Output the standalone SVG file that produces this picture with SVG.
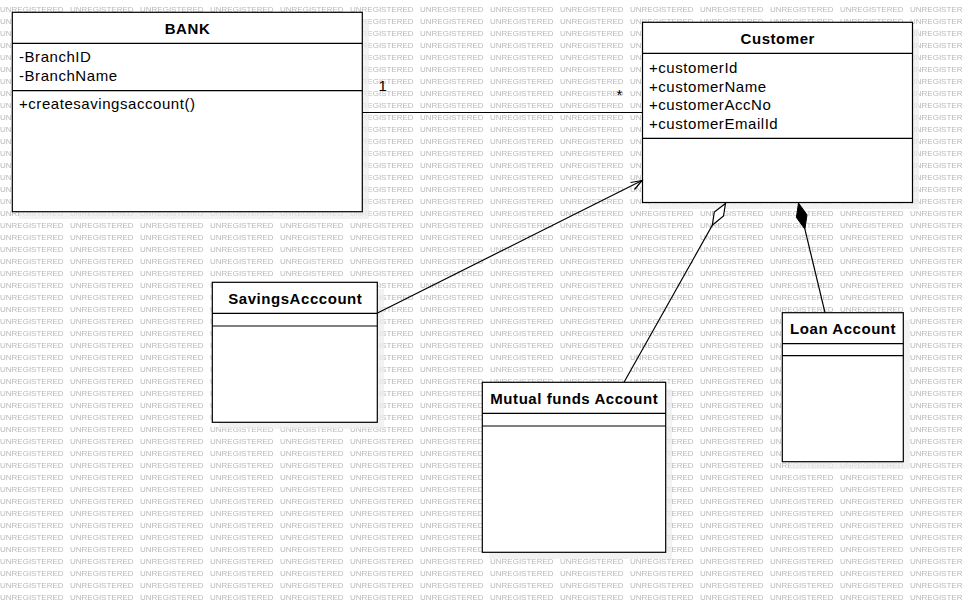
<svg xmlns="http://www.w3.org/2000/svg" width="963" height="602" viewBox="0 0 963 602">
  <defs>
    <pattern id="wm" patternUnits="userSpaceOnUse" x="0" y="0" width="70" height="12">
      <text x="0" y="11.8" font-family="Liberation Sans, Arial, sans-serif" font-size="8" fill="#b8b8b8">UNREGISTERED</text>
    </pattern>
    <style>
      .box { fill: #ffffff; stroke: #000000; stroke-width: 1.2; }
      .div { stroke: #000000; stroke-width: 1.2; }
      .shadow { fill: #ececec; fill-opacity: 0.7; }
      .title { font-family: "Liberation Sans", Arial, sans-serif; font-size: 15px; font-weight: bold; letter-spacing: 0.55px; text-anchor: middle; fill: #000000; }
      .attr { font-family: "Liberation Sans", Arial, sans-serif; font-size: 15px; letter-spacing: 0.55px; fill: #000000; }
      .conn { stroke: #000000; stroke-width: 1.2; fill: none; }
    </style>
  </defs>
  <rect x="0" y="0" width="963" height="602" fill="#ffffff"/>
  <rect x="0" y="0" width="963" height="602" fill="url(#wm)"/>

  <g id="shadows">
    <rect class="shadow" x="19" y="19" width="350" height="200"/>
    <rect class="shadow" x="649" y="29" width="270" height="180"/>
    <rect class="shadow" x="219" y="289" width="165" height="140"/>
    <rect class="shadow" x="489" y="389" width="183" height="170"/>
    <rect class="shadow" x="789" y="320" width="121" height="149"/>
  </g>

  <g id="bank">
    <rect class="box" x="12.3" y="12.3" width="350" height="199.4"/>
    <line class="div" x1="12.3" y1="43.3" x2="362.3" y2="43.3"/>
    <line class="div" x1="12.3" y1="90.7" x2="362.3" y2="90.7"/>
    <text class="title" x="187.5" y="33.5">BANK</text>
    <text class="attr" x="19" y="62.3">-BranchID</text>
    <text class="attr" x="19" y="80.8">-BranchName</text>
    <text class="attr" x="19" y="109.2">+createsavingsaccount()</text>
  </g>

  <g id="customer">
    <rect class="box" x="642.5" y="22.3" width="270" height="180.2"/>
    <line class="div" x1="642.5" y1="53.3" x2="912.5" y2="53.3"/>
    <line class="div" x1="642.5" y1="138.3" x2="912.5" y2="138.3"/>
    <text class="title" x="777.8" y="43.7">Customer</text>
    <text class="attr" x="649" y="73.3">+customerId</text>
    <text class="attr" x="649" y="91.7">+customerName</text>
    <text class="attr" x="649" y="110.1">+customerAccNo</text>
    <text class="attr" x="649" y="128.6">+customerEmailId</text>
  </g>

  <g id="savings">
    <rect class="box" x="212.3" y="282.3" width="165" height="140"/>
    <line class="div" x1="212.3" y1="313.3" x2="377.3" y2="313.3"/>
    <line class="div" x1="212.3" y1="326" x2="377.3" y2="326"/>
    <text class="title" x="295.3" y="304">SavingsAcccount</text>
  </g>

  <g id="mutual">
    <rect class="box" x="482.3" y="382.3" width="183.4" height="170"/>
    <line class="div" x1="482.3" y1="413.3" x2="665.7" y2="413.3"/>
    <line class="div" x1="482.3" y1="426" x2="665.7" y2="426"/>
    <text class="title" x="574.3" y="404">Mutual funds Account</text>
  </g>

  <g id="loan">
    <rect class="box" x="782.3" y="312.7" width="121" height="149"/>
    <line class="div" x1="782.3" y1="343.7" x2="903.3" y2="343.7"/>
    <line class="div" x1="782.3" y1="355.7" x2="903.3" y2="355.7"/>
    <text class="title" x="843.1" y="334">Loan Account</text>
  </g>

  <g id="connectors">
    <line class="conn" x1="362.3" y1="112.5" x2="642.5" y2="112.5"/>
    <text class="attr" x="378.5" y="90.5">1</text>
    <text class="attr" x="616.5" y="100" font-size="16px">*</text>

    <line class="conn" x1="377.5" y1="313" x2="642" y2="180.5"/>
    <polyline class="conn" points="630.5,182.5 642,180.5 634.5,189.5"/>

    <line class="conn" x1="624" y1="382.3" x2="712.3" y2="225.3"/>
    <polygon points="725.5,203.5 723.5,216 712.3,225.3 714.3,212" fill="#ffffff" stroke="#000000" stroke-width="1.2"/>

    <line class="conn" x1="825" y1="312.7" x2="804.9" y2="229.2"/>
    <polygon points="798.5,203 807,214.8 804.9,229.2 796.4,217.4" fill="#000000" stroke="#000000" stroke-width="1"/>
  </g>
</svg>
